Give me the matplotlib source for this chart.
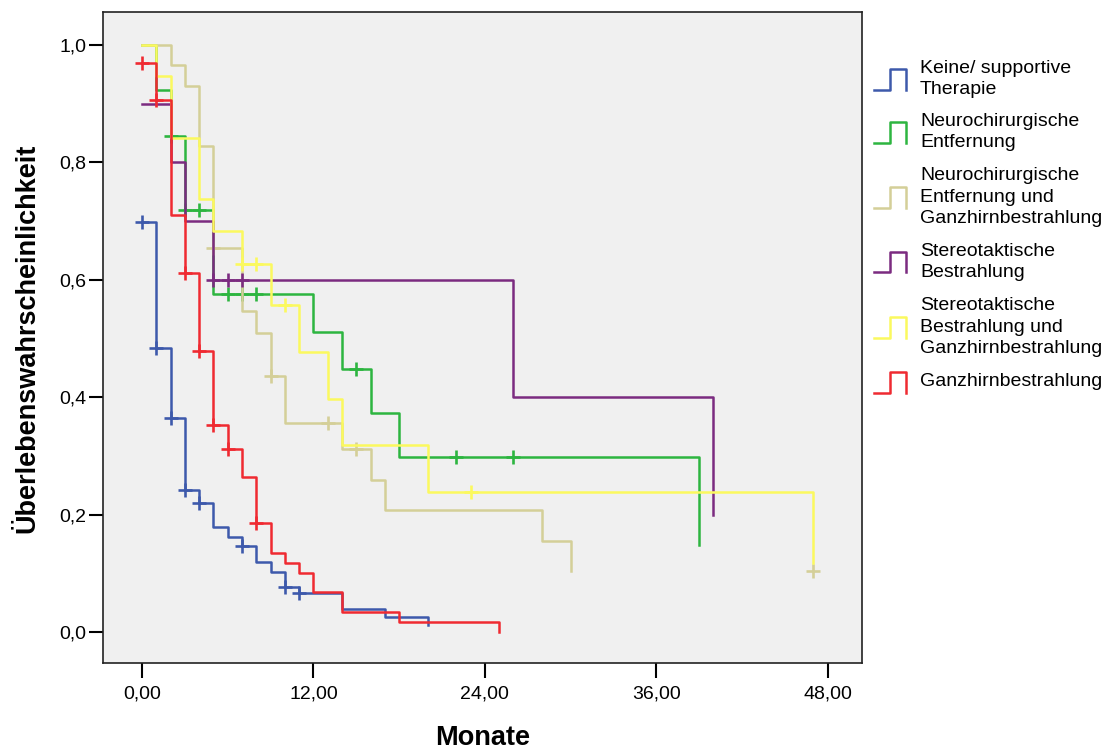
import numpy as np
import matplotlib
matplotlib.use('Agg')
from matplotlib import pyplot as plt
from matplotlib.lines import Line2D

plt.rcParams['font.family'] = ['Liberation Sans', 'DejaVu Sans']

# Kaplan-Meier Schaetzer je Therapiegruppe
gruppen = ['Keine/ supportive\nTherapie',
           'Neurochirurgische\nEntfernung',
           'Neurochirurgische\nEntfernung und\nGanzhirnbestrahlung',
           'Stereotaktische\nBestrahlung',
           'Stereotaktische\nBestrahlung und\nGanzhirnbestrahlung',
           'Ganzhirnbestrahlung']
farben = ['#3d59ab', '#2db540', '#d4cf98', '#7b2b80', '#fbf95e', '#ef2a31']

# Keine/ supportive Therapie
t_keine = [0, 1, 2, 3, 4, 5, 6, 7, 8, 9, 10, 11, 14, 17, 20]
s_keine = [0.699, 0.484, 0.365, 0.243, 0.220, 0.180, 0.163, 0.147, 0.120,
           0.103, 0.078, 0.067, 0.040, 0.027, 0.0135]
zens_t_keine = [0, 1, 2, 3, 4, 7, 10, 11]
zens_s_keine = [0.699, 0.484, 0.365, 0.243, 0.220, 0.147, 0.078, 0.067]

# Neurochirurgische Entfernung
t_op = [0, 1, 2, 3, 5, 12, 14, 16, 18, 39]
s_op = [1.0, 0.923, 0.845, 0.719, 0.576, 0.511, 0.448, 0.373, 0.298, 0.149]
zens_t_op = [2, 3, 4, 6, 7, 8, 15, 22, 26]
zens_s_op = [0.845, 0.719, 0.719, 0.576, 0.576, 0.576, 0.448, 0.298, 0.298]

# Neurochirurgische Entfernung und Ganzhirnbestrahlung
t_op_gh = [0, 2, 3, 4, 5, 7, 8, 9, 10, 14, 16, 17, 28, 30]
s_op_gh = [1.0, 0.965, 0.930, 0.828, 0.655, 0.547, 0.509, 0.437, 0.357,
           0.313, 0.260, 0.209, 0.156, 0.105]
zens_t_op_gh = [5, 9, 13, 15, 47]
zens_s_op_gh = [0.655, 0.437, 0.357, 0.313, 0.104]

# Stereotaktische Bestrahlung
t_stereo = [0, 2, 3, 5, 26, 40]
s_stereo = [0.9, 0.8, 0.7, 0.6, 0.4, 0.2]
zens_t_stereo = [5, 6, 7]
zens_s_stereo = [0.6, 0.6, 0.6]

# Stereotaktische Bestrahlung und Ganzhirnbestrahlung
t_stereo_gh = [0, 1, 2, 4, 5, 7, 9, 11, 13, 14, 20, 47]
s_stereo_gh = [1.0, 0.947, 0.842, 0.737, 0.684, 0.627, 0.557, 0.478, 0.398,
               0.319, 0.239, 0.119]
zens_t_stereo_gh = [7, 8, 10, 23]
zens_s_stereo_gh = [0.627, 0.627, 0.557, 0.239]

# Ganzhirnbestrahlung
t_gh = [0, 1, 2, 3, 4, 5, 6, 7, 8, 9, 10, 11, 12, 14, 18, 25]
s_gh = [0.970, 0.907, 0.711, 0.612, 0.479, 0.353, 0.312, 0.265, 0.187,
        0.136, 0.119, 0.101, 0.068, 0.034, 0.017, 0.0]
zens_t_gh = [0, 1, 3, 4, 5, 6, 8]
zens_s_gh = [0.970, 0.907, 0.612, 0.479, 0.353, 0.312, 0.187]

kurven = [(t_keine, s_keine, zens_t_keine, zens_s_keine),
          (t_op, s_op, zens_t_op, zens_s_op),
          (t_op_gh, s_op_gh, zens_t_op_gh, zens_s_op_gh),
          (t_stereo, s_stereo, zens_t_stereo, zens_s_stereo),
          (t_stereo_gh, s_stereo_gh, zens_t_stereo_gh, zens_s_stereo_gh),
          (t_gh, s_gh, zens_t_gh, zens_s_gh)]

W, H = 1111, 752
fig = plt.figure(figsize=(W / 100, H / 100), dpi=100)
ax = fig.add_axes([103 / W, 1 - 663 / H, (862 - 103) / W, (663 - 12) / H])
ax.set_facecolor('#f0f0f0')

for (t, s, zt, zs), c in zip(kurven, farben):
    ax.step(t, s, where='post', color=c, lw=1.8)
    ax.plot(zt, zs, '+', color=c, ms=10, mew=1.9, linestyle='none')

ax.set_xlim(-2.73, 50.4)
ax.set_ylim(-0.052, 1.056)
xt = [0, 12, 24, 36, 48]
ax.set_xticks(xt)
ax.set_xticklabels([('%.2f' % v).replace('.', ',') for v in xt], fontsize=14)
yt = [0, 0.2, 0.4, 0.6, 0.8, 1.0]
ax.set_yticks(yt)
ax.set_yticklabels([('%.1f' % v).replace('.', ',') for v in yt], fontsize=14)
ax.tick_params(axis='x', direction='out', length=11, width=1.5, pad=5)
ax.tick_params(axis='y', direction='out', length=10, width=1.5, pad=2)
for sp in ax.spines.values():
    sp.set_linewidth(1.2)
    sp.set_color('#222222')

ax.set_xlabel('Monate', fontsize=19.5, fontweight='bold')
ax.xaxis.set_label_coords(0.5, -0.095)
ax.set_ylabel('Überlebenswahrscheinlichkeit', fontsize=19.5, fontweight='bold')
ax.yaxis.set_label_coords(-0.082, 0.499)

# Legende mit Stufen-Symbolen
mitten = [79, 132, 197, 262, 327, 382]
for name, c, yc in zip(gruppen, farben, mitten):
    oben, unten = yc - 10.5, yc + 10.5
    xs = [874, 890, 890, 906, 906]
    ys = [unten, unten, oben, oben, unten]
    fig.add_artist(Line2D([x / W for x in xs], [1 - y / H for y in ys],
                          color=c, lw=1.8, transform=fig.transFigure))
    fig.text(920 / W, 1 - yc / H, name, fontsize=14, va='center', ha='left',
             linespacing=1.35)

fig.savefig('out.png', dpi=100)
